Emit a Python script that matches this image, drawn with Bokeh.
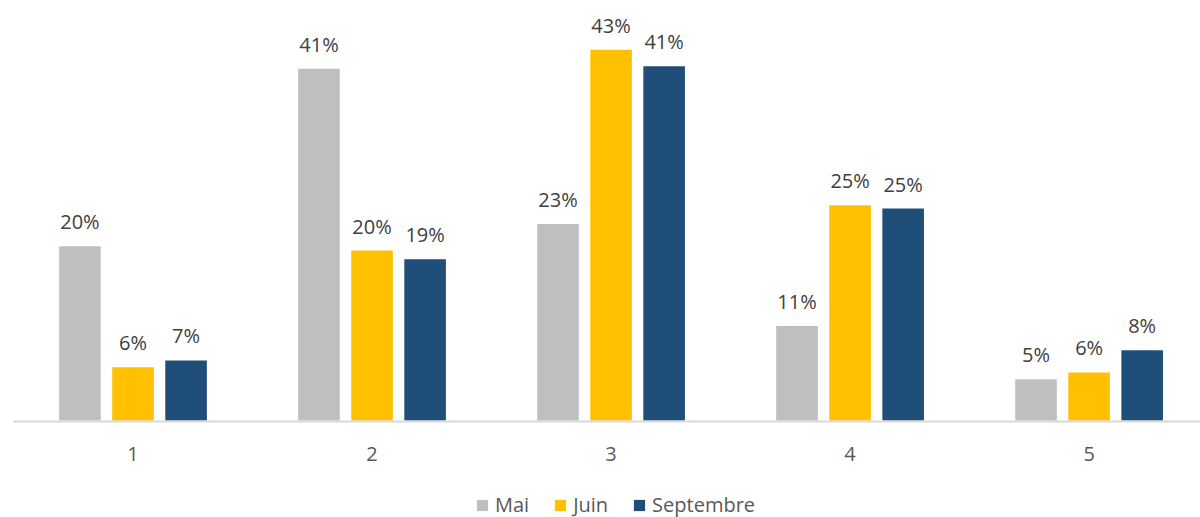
from bokeh.plotting import figure
from bokeh.layouts import column
from bokeh.models import ColumnDataSource, Range1d, FixedTicker, Legend, LegendItem, LabelSet
from bokeh.transform import dodge
from bokeh.core.properties import value
from bokeh.embed import file_html
from bokeh.resources import INLINE

categories = ["1", "2", "3", "4", "5"]
mai = [20.3, 41.0, 22.9, 11.0, 4.8]
juin = [6.2, 19.8, 43.2, 25.1, 5.6]
septembre = [7.0, 18.8, 41.3, 24.7, 8.2]
series_names = ["Mai", "Juin", "Septembre"]
colors = ["#BFBFBF", "#FFC000", "#1F4E79"]

FONT = "Open Sans"
xs = [i + 1 for i in range(len(categories))]

p = figure(width=1200, height=487,
           x_range=Range1d(0.5, 5.466), y_range=Range1d(-0.117, 48.95),
           output_backend="svg", toolbar_location=None,
           min_border_left=13, min_border_right=0, min_border_top=0,
           min_border_bottom=66)

p.background_fill_color = "white"
p.border_fill_color = "white"
p.outline_line_color = None
p.xgrid.visible = False
p.ygrid.visible = False
p.yaxis.visible = False

offsets = [-0.222, 0.0, 0.222]
for name, vals, col, off in zip(series_names, [mai, juin, septembre], colors, offsets):
    src = ColumnDataSource(dict(x=xs, top=vals, label=[f"{round(v)}%" for v in vals]))
    p.vbar(x=dodge("x", off, range=p.x_range), top="top", bottom=0, width=0.174,
           source=src, fill_color=col, line_color=None)
    labels = LabelSet(x=dodge("x", off, range=p.x_range), y="top", text="label", source=src,
                      y_offset=17, text_align="center", text_baseline="alphabetic",
                      text_font=value(FONT), text_font_size="20px", text_color="#404040")
    p.add_layout(labels)

ax = p.xaxis[0]
ax.ticker = FixedTicker(ticks=xs)
ax.major_label_overrides = {x: c for x, c in zip(xs, categories)}
ax.axis_line_color = "#D9D9D9"
ax.axis_line_width = 2
ax.major_tick_line_color = None
ax.minor_tick_line_color = None
ax.major_label_standoff = 19
ax.major_label_text_font = FONT
ax.major_label_text_font_size = "20px"
ax.major_label_text_color = "#595959"

# legend strip below the chart
q = figure(width=1200, height=30, x_range=Range1d(0, 1), y_range=Range1d(0, 1),
           output_backend="svg", toolbar_location=None,
           min_border_left=13, min_border_right=0, min_border_top=0, min_border_bottom=0)
q.axis.visible = False
q.grid.visible = False
q.outline_line_color = None
q.background_fill_color = "white"
q.border_fill_color = "white"
items = []
for name, col in zip(series_names, colors):
    # legend key only: a single undrawn (NaN) entry so the key swatch is rendered
    r = q.vbar(x=[float("nan")], top=[float("nan")], width=0.1, fill_color=col, line_color=None)
    items.append(LegendItem(label=name, renderers=[r]))
legend = Legend(items=items, orientation="horizontal", location=(462, -1),
                glyph_width=14, glyph_height=14, label_standoff=6, spacing=24,
                padding=0, margin=0, border_line_color=None, background_fill_alpha=0,
                label_text_font=FONT, label_text_font_size="20px",
                label_text_color="#595959")
q.add_layout(legend, "center")

layout = column(p, q, spacing=0)
open("out.html", "w").write(file_html(layout, INLINE))
